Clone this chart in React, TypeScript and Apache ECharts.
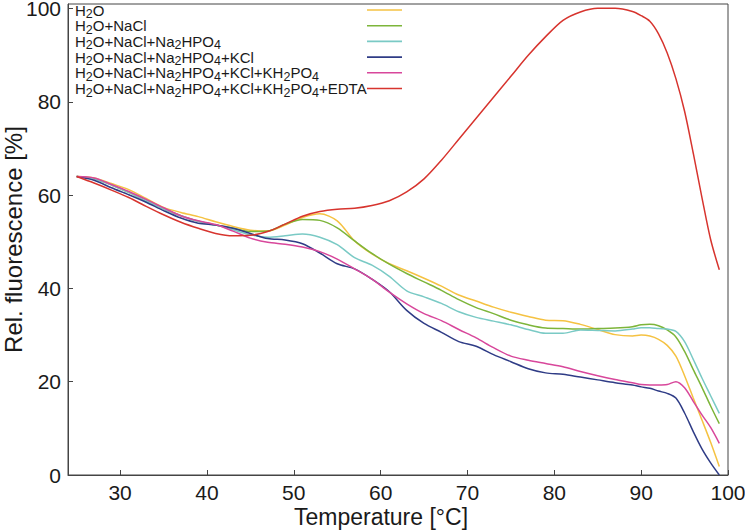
import { useEffect, useRef } from "react";
import * as echarts from "echarts";

const temperature = [25, 27, 29, 31, 33, 35, 37, 39, 41, 43, 45, 47, 49, 51, 53, 55, 57, 59, 61, 63, 65, 67, 69, 71, 73, 75, 77, 79, 81, 83, 85, 87, 89, 90, 91, 92, 93, 94, 95, 96, 97, 98, 99];

const seriesNames = [
  "H2O",
  "H2O+NaCl",
  "H2O+NaCl+Na2HPO4",
  "H2O+NaCl+Na2HPO4+KCl",
  "H2O+NaCl+Na2HPO4+KCl+KH2PO4",
  "H2O+NaCl+Na2HPO4+KCl+KH2PO4+EDTA",
];

const seriesColors = ["#F5C242", "#7DB53A", "#7ACAC5", "#2F3C86", "#D8479B", "#D7342E"];

const h2o = [64, 63.7, 62.5, 61.2, 59.3, 57.4, 56.3, 55.4, 54.3, 53.3, 52.5, 52.3, 53.6, 55.2, 56, 54.5, 50.2, 47.4, 45.3, 43.8, 42.2, 40.5, 38.6, 37.3, 36, 34.9, 34, 33.2, 33.1, 32.3, 31.2, 30.1, 29.8, 30, 29.8, 29.1, 27.8, 25.5, 21.3, 16.5, 11.8, 7, 1.8];
const nacl = [64, 63.5, 62.2, 60.6, 58.8, 57.1, 55.6, 54.4, 53.6, 52.9, 52.2, 52.3, 53.8, 54.8, 54.6, 53, 50.2, 47.5, 45.2, 43.2, 41.4, 39.6, 37.6, 35.9, 34.6, 33.2, 32.2, 31.5, 31.4, 31.3, 31.4, 31.5, 31.8, 32.2, 32.3, 32, 31.1, 29.6, 26.5, 22.6, 18.8, 14.8, 11];
const na2hpo4 = [64, 63.5, 62.2, 60.6, 58.8, 57.1, 55.6, 54.4, 53.6, 52.6, 51.5, 51, 51.3, 51.7, 51, 49.4, 46.6, 45, 42.6, 39.5, 38.2, 36.8, 35, 33.8, 33, 32.2, 31.2, 30.4, 30.4, 31.1, 31, 30.9, 31.3, 31.6, 31.6, 31.4, 31.3, 30.8, 28.6, 24.8, 20.8, 17, 13.2];
const kcl = [64, 63.2, 61.6, 60.1, 58.5, 56.7, 55.1, 54, 53.6, 52.9, 51.8, 50.7, 50.4, 49.6, 47.6, 45.3, 44.2, 42, 39.3, 35.3, 32.5, 30.6, 28.6, 27.6, 25.8, 24.3, 22.8, 21.9, 21.6, 21, 20.4, 19.8, 19.3, 18.9, 18.6, 18, 17.5, 16.5, 13.3, 9.3, 5.6, 2.6, 0];
const kh2po4 = [64, 63.7, 62.3, 60.8, 59.1, 57.3, 55.6, 54.5, 53.7, 52.3, 50.8, 49.9, 49.5, 48.9, 47.9, 46.3, 44.2, 42, 39.2, 36.7, 34.6, 33.1, 31.2, 29.4, 27.3, 25.5, 24.6, 23.9, 23.2, 22.2, 21.3, 20.5, 19.8, 19.4, 19.3, 19.3, 19.4, 20, 18.7, 15.8, 12.9, 10.2, 6.8];
const edta = [64, 62.6, 61.1, 59.5, 57.6, 55.8, 54.2, 52.9, 51.8, 51.3, 51.4, 52.2, 53.8, 55.5, 56.5, 57, 57.2, 57.8, 58.8, 60.7, 63.5, 67.5, 72, 76.5, 81, 85.5, 90, 94, 97.5, 99.3, 100.1, 100.1, 99.4, 98.5, 97.3, 94.6, 90.5, 85, 78, 69, 59.5, 50.5, 44];

const seriesValues = [h2o, nacl, na2hpo4, kcl, kh2po4, edta];

const FONT = "'Liberation Sans', Arial, Helvetica, sans-serif";

function chemRich(name: string): string {
  const parts = name.match(/\d+|\D+/g) || [];
  return parts.map((p) => (/^\d+$/.test(p) ? `{s|${p}}` : `{t|${p}}`)).join("");
}

export default function App() {
  const ref = useRef<HTMLDivElement>(null);
  useEffect(() => {
    if (!ref.current) return;
    const chart = echarts.init(ref.current, undefined, { renderer: "svg" });
    chart.setOption({
      animation: false,
      backgroundColor: "#ffffff",
      grid: {
        left: 68,
        right: 17,
        top: 4,
        bottom: 56,
        outerBoundsMode: "none",
        containLabel: false,
        show: true,
        borderColor: "#444",
        borderWidth: 1,
      },
      legend: {
        orient: "vertical",
        left: 70,
        top: -5.5,
        align: "right",
        icon: "rect",
        itemGap: -5.3,
        itemWidth: 35,
        itemHeight: 1.6,
        selectedMode: false,
        data: seriesNames,
        formatter: (name: string) => chemRich(name),
        textStyle: {
          fontFamily: FONT,
          fontSize: 15,
          color: "#1a1a1a",
          lineHeight: 16,
          width: 287,
          rich: {
            t: { fontFamily: FONT, fontSize: 15, lineHeight: 16, align: "left", color: "#1a1a1a" },
            s: { fontFamily: FONT, fontSize: 12.5, lineHeight: 16, align: "left", padding: [8, 0, 0, 0], color: "#1a1a1a" },
          },
        },
      },
      xAxis: {
        type: "value",
        min: 24,
        max: 100,
        minInterval: 10,
        maxInterval: 10,
        splitNumber: 8,
        name: "Temperature [°C]",
        nameLocation: "middle",
        nameMoveOverlap: false,
        nameGap: 30,
        nameTextStyle: { fontFamily: FONT, fontSize: 23, lineHeight: 24, color: "#1a1a1a", padding: [0, 34, 0, 0] },
        axisLine: { lineStyle: { color: "#444", width: 1 } },
        axisTick: { inside: true, length: 5, lineStyle: { color: "#444" } },
        axisLabel: {
          fontFamily: FONT,
          fontSize: 21,
          lineHeight: 18,
          color: "#1a1a1a",
          margin: 8,
          showMinLabel: false,
        },
        splitLine: { show: false },
      },
      yAxis: {
        type: "value",
        min: 0,
        max: 101,
        interval: 20,
        name: "Rel. fluorescence [%]",
        nameLocation: "middle",
        nameMoveOverlap: false,
        nameGap: 43,
        nameTextStyle: { fontFamily: FONT, fontSize: 24, lineHeight: 24, color: "#1a1a1a" },
        axisLine: { show: true, lineStyle: { color: "#444", width: 1 } },
        axisTick: { show: true, inside: true, length: 5, lineStyle: { color: "#444" } },
        axisLabel: { fontFamily: FONT, fontSize: 21, lineHeight: 17, color: "#1a1a1a", margin: 7, showMaxLabel: false },
        splitLine: { show: false },
      },
      series: seriesNames.map((name, i) => ({
        name,
        type: "line",
        data: temperature.map((t, j) => [t, seriesValues[i][j]]),
        showSymbol: false,
        symbol: "none",
        smooth: 0.3,
        color: seriesColors[i],
        lineStyle: { color: seriesColors[i], width: 1.5 },
      })),
    });
    return () => chart.dispose();
  }, []);
  return <div ref={ref} style={{ width: 745, height: 531, position: "absolute", left: 0, top: 0 }} />;
}
